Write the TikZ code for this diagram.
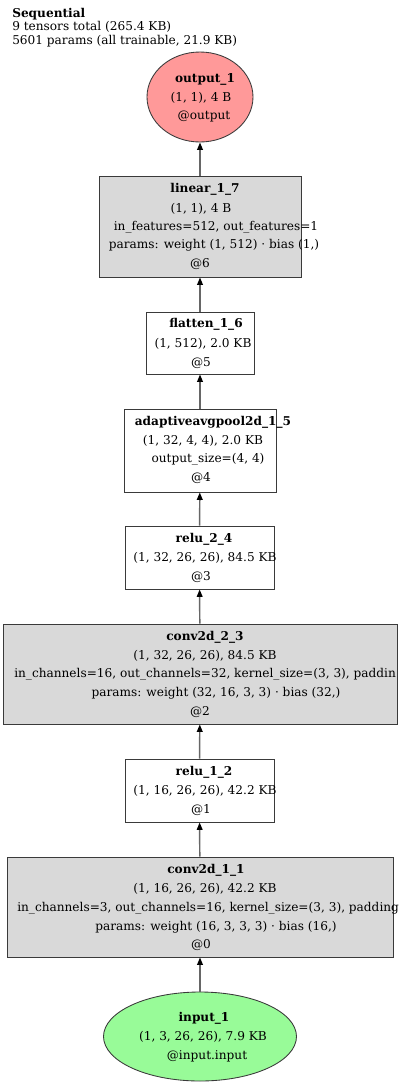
\documentclass[tikz,border=0pt]{standalone}
\usepackage{fontspec}
\setmainfont{DejaVu Serif}
\usetikzlibrary{shapes.geometric,arrows.meta}
\definecolor{outred}{HTML}{FF9999}
\definecolor{ingreen}{HTML}{98FB98}
\definecolor{opgray}{HTML}{D9D9D9}
\definecolor{bord}{HTML}{3A3A3A}
\definecolor{edgegray}{HTML}{666666}
\begin{document}
\begin{tikzpicture}[x=0.75pt,y=-0.75pt,
  every node/.style={font=\fontsize{9.1}{10}\selectfont, inner sep=0pt, text=black},
  txt/.style={anchor=base},
  txtw/.style={anchor=base west},
  box/.style={draw=bord, line width=0.65pt, rectangle},
  opbox/.style={box, fill=opgray},
  plainbox/.style={box, fill=white},
  outell/.style={draw=bord, line width=0.65pt, ellipse, fill=outred},
  inell/.style={draw=bord, line width=0.65pt, ellipse, fill=ingreen},
  edge/.style={draw=edgegray, line width=1.1pt, -{Triangle[length=5.5pt,width=4.2pt,black]}}
]
\useasboundingbox (0,0) rectangle (400,1086);
\clip (0,0) rectangle (400,1086);

% header
\node[txtw] (hdrA) at (12,17) {\textbf{Sequential}};
\node[txtw] (hdrB) at (12,30) {9 tensors total (265.4 KB)};
\node[txtw] (hdrC) at (12,44) {5601 params (all trainable, 21.9 KB)};

% shapes
\node[outell, minimum width=106*0.75pt, minimum height=90*0.75pt] (out) at (200,97) {};
\node[opbox, minimum width=202*0.75pt, minimum height=101*0.75pt] (lin) at (200,226.5) {};
\node[plainbox, minimum width=108*0.75pt, minimum height=62*0.75pt] (flat) at (200,343) {};
\node[plainbox, minimum width=152*0.75pt, minimum height=83*0.75pt] (pool) at (200,450.5) {};
\node[plainbox, minimum width=149*0.75pt, minimum height=63*0.75pt] (relu2) at (199.5,557.5) {};
\node[opbox, minimum width=394*0.75pt, minimum height=100*0.75pt] (conv2) at (200,674) {};
\node[plainbox, minimum width=149*0.75pt, minimum height=63*0.75pt] (relu1) at (199.5,790.5) {};
\node[opbox, minimum width=386*0.75pt, minimum height=100*0.75pt] (conv1) at (200,907) {};
\node[inell, minimum width=193*0.75pt, minimum height=89*0.75pt] (in) at (200,1036.5) {};

% edges
\draw[edge] (in) -- (conv1);
\draw[edge] (conv1) -- (relu1);
\draw[edge] (relu1) -- (conv2);
\draw[edge] (conv2) -- (relu2);
\draw[edge] (relu2) -- (pool);
\draw[edge] (pool) -- (flat);
\draw[edge] (flat) -- (lin);
\draw[edge] (lin) -- (out);

% output_1
\node[txt] (outA) at (205,82) {\textbf{output\_1}};
\node[txt] (outB) at (201,101) {(1, 1), 4 B};
\node[txt] (outC) at (204,119) {@output};

% linear_1_7
\node[txt] (linA) at (205,192) {\textbf{linear\_1\_7}};
\node[txt] (linB) at (201,212) {(1, 1), 4 B};
\node[txt] (linC) at (216,230) {in\_features=512, out\_features=1};
\node[txt] (linD) at (214,248) {params: weight (1, 512) · bias (1,)};
\node[txt] (linE) at (200,267) {@6};

% flatten_1_6
\node[txt] (flatA) at (206,327) {\textbf{flatten\_1\_6}};
\node[txt] (flatB) at (203,347) {(1, 512), 2.0 KB};
\node[txt] (flatC) at (201,366) {@5};

% adaptiveavgpool2d_1_5
\node[txt] (poolA) at (213,425) {\textbf{adaptiveavgpool2d\_1\_5}};
\node[txt] (poolB) at (203,444) {(1, 32, 4, 4), 2.0 KB};
\node[txt] (poolC) at (208,462) {output\_size=(4, 4)};
\node[txt] (poolD) at (201,481) {@4};

% relu_2_4
\node[txt] (r2A) at (204,542) {\textbf{relu\_2\_4}};
\node[txt] (r2B) at (205,561) {(1, 32, 26, 26), 84.5 KB};
\node[txt] (r2C) at (201,580) {@3};

% conv2d_2_3
\node[txt] (c2A) at (205,640) {\textbf{conv2d\_2\_3}};
\node[txt] (c2B) at (205,659) {(1, 32, 26, 26), 84.5 KB};
\node[txtw] (c2C) at (14,677) {in\_channels=16, out\_channels=32, kernel\_size=(3, 3), paddin};
\node[txt] (c2D) at (216,696) {params: weight (32, 16, 3, 3) · bias (32,)};
\node[txt] (c2E) at (200,715) {@2};

% relu_1_2
\node[txt] (r1A) at (204,775) {\textbf{relu\_1\_2}};
\node[txt] (r1B) at (205,794) {(1, 16, 26, 26), 42.2 KB};
\node[txt] (r1C) at (201,813) {@1};

% conv2d_1_1
\node[txt] (c1A) at (206,873) {\textbf{conv2d\_1\_1}};
\node[txt] (c1B) at (205,892) {(1, 16, 26, 26), 42.2 KB};
\node[txtw] (c1C) at (17,911) {in\_channels=3, out\_channels=16, kernel\_size=(3, 3), padding};
\node[txt] (c1D) at (216,930) {params: weight (16, 3, 3, 3) · bias (16,)};
\node[txt] (c1E) at (201,948) {@0};

% input_1
\node[txt] (inA) at (204,1021) {\textbf{input\_1}};
\node[txt] (inB) at (203,1040) {(1, 3, 26, 26), 7.9 KB};
\node[txt] (inC) at (207,1059) {@input.input};
\end{tikzpicture}
\end{document}
